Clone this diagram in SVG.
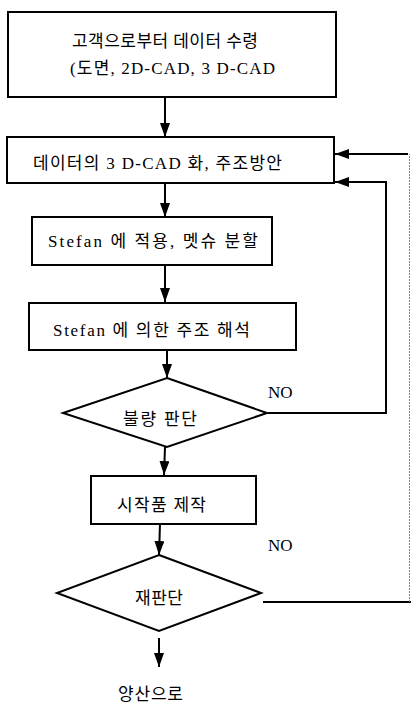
<svg xmlns="http://www.w3.org/2000/svg" width="411" height="704" viewBox="0 0 411 704">
<style>
.box{fill:#fff;stroke:#000;stroke-width:2}
.t{font-family:"Liberation Serif","Noto Sans CJK KR",serif;font-size:17px;fill:#000}
.c{fill:none;stroke:#000;stroke-width:2}
.faint{fill:none;stroke:#888;stroke-width:1;stroke-dasharray:2 1}
</style>
<defs>
<marker id="ah" viewBox="0 0 14 10" markerWidth="14" markerHeight="10" refX="14" refY="5" orient="auto" markerUnits="userSpaceOnUse">
<path d="M0,0 L14,5 L0,10 z" fill="#000"/>
</marker>
</defs>
<rect width="411" height="704" fill="#fff"/>
<g id="connectors">
<line class="c" x1="165" y1="97" x2="165" y2="137" marker-end="url(#ah)"/>
<line class="c" x1="165" y1="183" x2="165" y2="217" marker-end="url(#ah)"/>
<line class="c" x1="165" y1="265" x2="165" y2="302" marker-end="url(#ah)"/>
<line class="c" x1="167" y1="350" x2="167" y2="378" marker-end="url(#ah)"/>
<line class="c" x1="165" y1="447" x2="164" y2="475" marker-end="url(#ah)"/>
<line class="c" x1="160" y1="524" x2="159" y2="555" marker-end="url(#ah)"/>
<line class="c" x1="159" y1="638" x2="159" y2="667" marker-end="url(#ah)"/>
<polyline class="c" points="268,413 386,413 386,182 335,182" marker-end="url(#ah)"/>
<polyline class="c" points="263,602 411,602"/>
<polyline class="faint" points="409.5,602 409.5,154"/>
<polyline class="c" points="408,154 335,154" marker-end="url(#ah)"/>
<text class="t" x="268" y="398">NO</text>
<text class="t" x="268" y="551">NO</text>
</g>
<g id="n1">
<rect class="box" x="8" y="12" width="328" height="85"/>
<text class="t" x="72" y="47" textLength="186" lengthAdjust="spacing">고객으로부터 데이터 수령</text>
<text class="t" x="70" y="74" textLength="205" lengthAdjust="spacing">(도면, 2D-CAD, 3 D-CAD</text>
</g>
<g id="n2">
<rect class="box" x="7" y="137" width="327" height="46"/>
<text class="t" x="33" y="169" textLength="249" lengthAdjust="spacing">데이터의 3 D-CAD 화, 주조방안</text>
</g>
<g id="n3">
<rect class="box" x="32" y="217" width="240" height="48"/>
<text class="t" x="48" y="247" textLength="210" lengthAdjust="spacing">Stefan 에 적용, 멧슈 분할</text>
</g>
<g id="n4">
<rect class="box" x="29" y="303" width="267" height="47"/>
<text class="t" x="53" y="336" textLength="197" lengthAdjust="spacing">Stefan 에 의한 주조 해석</text>
</g>
<g id="n5">
<polygon class="box" points="167,378 267,413 167,447 63,413"/>
<text class="t" x="123" y="425" textLength="74" lengthAdjust="spacing">불량 판단</text>
</g>
<g id="n6">
<rect class="box" x="91" y="476" width="165" height="48"/>
<text class="t" x="117" y="511" textLength="89" lengthAdjust="spacing">시작품 제작</text>
</g>
<g id="n7">
<polygon class="box" points="159,555 261,593 159,631 57,593"/>
<text class="t" x="135" y="604" textLength="48" lengthAdjust="spacing">재판단</text>
</g>
<g id="n8">
<text class="t" x="118" y="700" textLength="65" lengthAdjust="spacing">양산으로</text>
</g>
</svg>
